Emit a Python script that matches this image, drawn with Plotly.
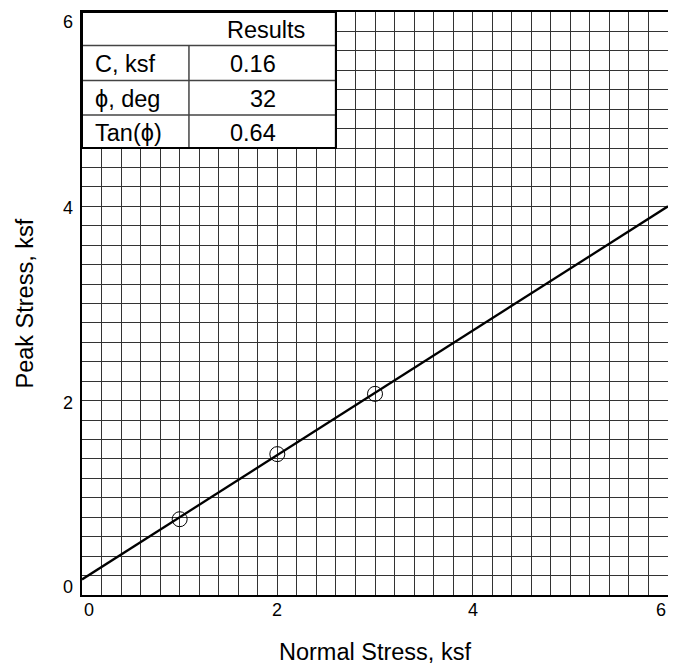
import plotly.graph_objects as go

# ---- data ----
normal_stress = [1.0, 2.0, 3.0]
peak_stress = [0.78, 1.45, 2.07]

cohesion = 0.16
tan_phi = 0.64
fit_x = [0.0, 6.0]

x_tick_vals = [0, 2, 4, 6]
x_tick_text = ["0", "2", "4", "6"]
y_tick_vals = [0, 2, 4, 6]
y_tick_text = ["0", "2", "4", "6"]

table_header = "Results"
table_labels = ["C, ksf", "\u03d5, deg", "Tan(\u03d5)"]
table_values = ["0.16", "32", "0.64"]

x_title = "Normal Stress, ksf"
y_title = "Peak Stress, ksf"

FONT = "Liberation Sans, Arial, sans-serif"

fit_y = [cohesion + tan_phi * x for x in fit_x]

fig = go.Figure()
fig.add_trace(go.Scatter(x=fit_x, y=fit_y, mode="lines",
                         line=dict(color="black", width=2.3),
                         hoverinfo="skip", showlegend=False))
fig.add_trace(go.Scatter(x=normal_stress, y=peak_stress, mode="markers",
                         marker=dict(symbol="circle-open", size=15,
                                     color="black", line=dict(width=1, color="black")),
                         showlegend=False))

axis_common = dict(range=[0, 6], dtick=0.2, tick0=0, showgrid=True,
                   gridcolor="#333333", gridwidth=1, zeroline=False,
                   showline=True, linecolor="black", linewidth=2, mirror=True,
                   showticklabels=False, ticks="", fixedrange=True)

# page body has an 8px default margin, so the figure is sized/offset for it
fig.update_layout(
    width=668, height=661,
    margin=dict(l=74, r=8, t=2, b=74),
    paper_bgcolor="white", plot_bgcolor="white",
    xaxis=axis_common, yaxis=axis_common,
    font=dict(family=FONT, color="black"),
)

# ---- results table ----
tx0, tx1, ty0, ty1 = 0.0, 2.6, 4.6, 6.0
row_lines = [5.655, 5.295, 4.94]
col_div = 1.095
fig.add_shape(type="rect", x0=tx0, x1=tx1, y0=ty0, y1=ty1, xref="x", yref="y",
              fillcolor="white", line=dict(color="black", width=2), layer="above")
for yl in row_lines:
    fig.add_shape(type="line", x0=tx0, x1=tx1, y0=yl, y1=yl, xref="x", yref="y",
                  line=dict(color="#444444", width=1.5), layer="above")
fig.add_shape(type="line", x0=col_div, x1=col_div, y0=ty0, y1=row_lines[0],
              xref="x", yref="y", line=dict(color="#444444", width=1.5), layer="above")
fig.add_shape(type="rect", x0=tx0, x1=tx1, y0=ty0, y1=ty1, xref="x", yref="y",
              fillcolor="rgba(0,0,0,0)", line=dict(color="black", width=2), layer="above")

row_bounds = [ty1] + row_lines + [ty0]
row_centers = [(row_bounds[i] + row_bounds[i + 1]) / 2 for i in range(4)]
tfont = dict(family=FONT, size=23.5, color="black")
fig.add_annotation(x=1.88, y=row_centers[0], text=table_header, showarrow=False,
                   xanchor="center", yanchor="middle", yshift=-1, font=tfont)
for i, (lab, val) in enumerate(zip(table_labels, table_values)):
    fig.add_annotation(x=0.11, y=row_centers[i + 1], text=lab, showarrow=False,
                       xanchor="left", yanchor="middle", yshift=-1, font=tfont)
    fig.add_annotation(x=2.01, y=row_centers[i + 1], text=val, showarrow=False,
                       xanchor="right", yanchor="middle", yshift=-1, font=tfont)

# ---- tick labels ----
kfont = dict(family=FONT, size=18, color="black")
for v, t in zip(x_tick_vals, x_tick_text):
    anchor = "left" if v == x_tick_vals[0] else ("right" if v == x_tick_vals[-1] else "center")
    fig.add_annotation(x=v, y=0, xref="x", yref="paper", text=t, showarrow=False,
                       xanchor=anchor, yanchor="top", yshift=-3, font=kfont)
for v, t in zip(y_tick_vals, y_tick_text):
    if v == y_tick_vals[0]:
        ya, ys = "bottom", -4
    elif v == y_tick_vals[-1]:
        ya, ys = "top", 2
    else:
        ya, ys = "middle", -2
    fig.add_annotation(x=0, y=v, xref="paper", yref="y", text=t, showarrow=False,
                       xanchor="right", yanchor=ya, xshift=-7, yshift=ys, font=kfont)

# ---- axis titles ----
afont = dict(family=FONT, size=23.5, color="black")
fig.add_annotation(x=0.5, y=0, xref="paper", yref="paper", text=x_title, showarrow=False,
                   xanchor="center", yanchor="middle", yshift=-56.5, font=afont)
fig.add_annotation(x=0, y=0.5, xref="paper", yref="paper", text=y_title, showarrow=False,
                   textangle=-90, xanchor="center", yanchor="middle", xshift=-58, font=afont)

fig.write_html("out.html")
